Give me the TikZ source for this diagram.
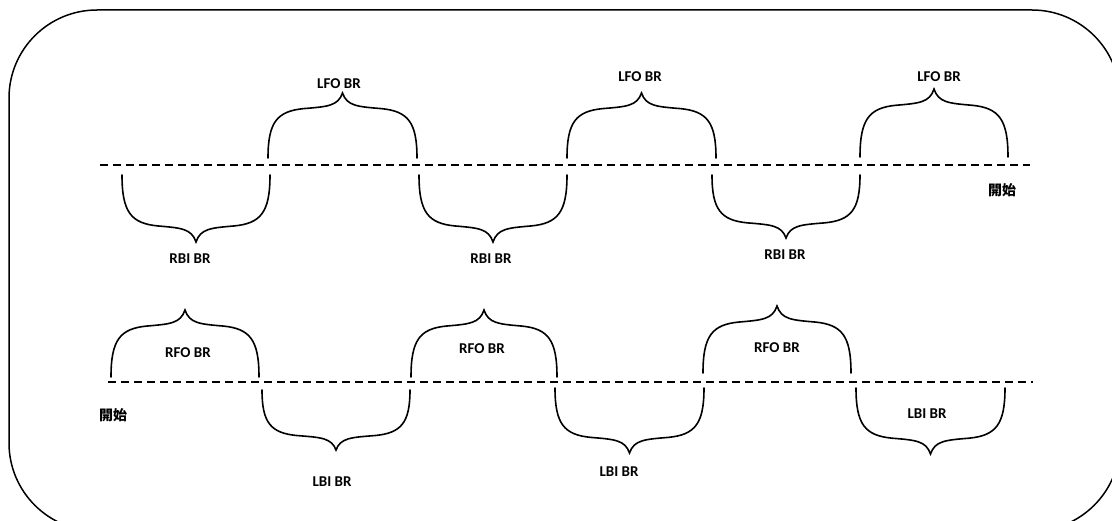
\documentclass[tikz,border=0pt]{standalone}
\usepackage{fontspec}
\setmainfont{Carlito}
\newfontfamily\cjkfont{Noto Sans CJK TC}
\usetikzlibrary{positioning}
\tikzset{brace/.style = {line width=1.6pt, line cap=round},
         baseline/.style = {line width=1.8pt, dash pattern=on 8pt off 5pt},
         lbl/.style = {font=\fontsize{15}{18}\selectfont\bfseries, inner sep=1pt},
         startlbl/.style = {font=\fontsize{14}{16}\selectfont\cjkfont\bfseries, inner sep=1pt}}
\definecolor{mframe}{rgb}{0, 0, 0}

\begin{document}
\begin{tikzpicture}[x=1pt, y=-1pt]
      \useasboundingbox (0, 0) rectangle (1112, 521);
      \clip (0, 0) rectangle (1112, 521);
      \draw [mframe, line width=1.5pt, rounded corners=88pt] (9, 10) rectangle (1120, 531);
      % baselines
      \draw [baseline] (100, 165) -- (1030, 165);
      \draw [baseline] (108, 382) -- (1033, 382);
      % braces: left end / right end / end y / tip y
      \foreach \a/\c/\b/\t in {268/417/158/93, 567/716/158/93, 860/1008/157/89,
                               122/270/175/242, 419/567/175/242, 712/860/175/238,
                               111/259/377/310, 411/557/377/310, 703/851/373/306,
                               262/410/390/450, 555/704/388/453, 856/1005/388/454} {
        \pgfmathsetmacro{\w}{\c-\a}
        \pgfmathsetmacro{\d}{\t-\b}
        \pgfmathsetmacro{\m}{(\a+\c)/2}
        \draw [brace] (\a, \b)
          .. controls (\a, \b+0.55*\d) and (\a+0.06*\w, \b+0.72*\d) .. (\a+0.24*\w, \b+0.76*\d)
          .. controls (\a+0.40*\w, \b+0.79*\d) and (\m-0.03*\w, \b+0.80*\d) .. (\m, \t)
          .. controls (\m+0.03*\w, \b+0.80*\d) and (\c-0.40*\w, \b+0.79*\d) .. (\c-0.24*\w, \b+0.76*\d)
          .. controls (\c-0.06*\w, \b+0.72*\d) and (\c, \b+0.55*\d) .. (\c, \b);
      }
      % labels
      \node [lbl] (lfoA) at (339, 84) {LFO BR};
      \node [lbl] (lfoB) at (640, 77) {LFO BR};
      \node [lbl] (lfoC) at (939, 77) {LFO BR};
      \node [lbl] (rbiA) at (190, 259) {RBI BR};
      \node [lbl] (rbiB) at (491, 259) {RBI BR};
      \node [lbl] (rbiC) at (785, 255) {RBI BR};
      \node [lbl] (rfoA) at (188, 353) {RFO BR};
      \node [lbl] (rfoB) at (482, 349) {RFO BR};
      \node [lbl] (rfoC) at (777, 348) {RFO BR};
      \node [lbl] (lbiA) at (332, 482) {LBI BR};
      \node [lbl] (lbiB) at (619, 472) {LBI BR};
      \node [lbl] (lbiC) at (927, 414) {LBI BR};
      \node [startlbl] (startTop) at (1002, 190) {開始};
      \node [startlbl] (startBot) at (113, 415) {開始};
    \end{tikzpicture}
\end{document}
